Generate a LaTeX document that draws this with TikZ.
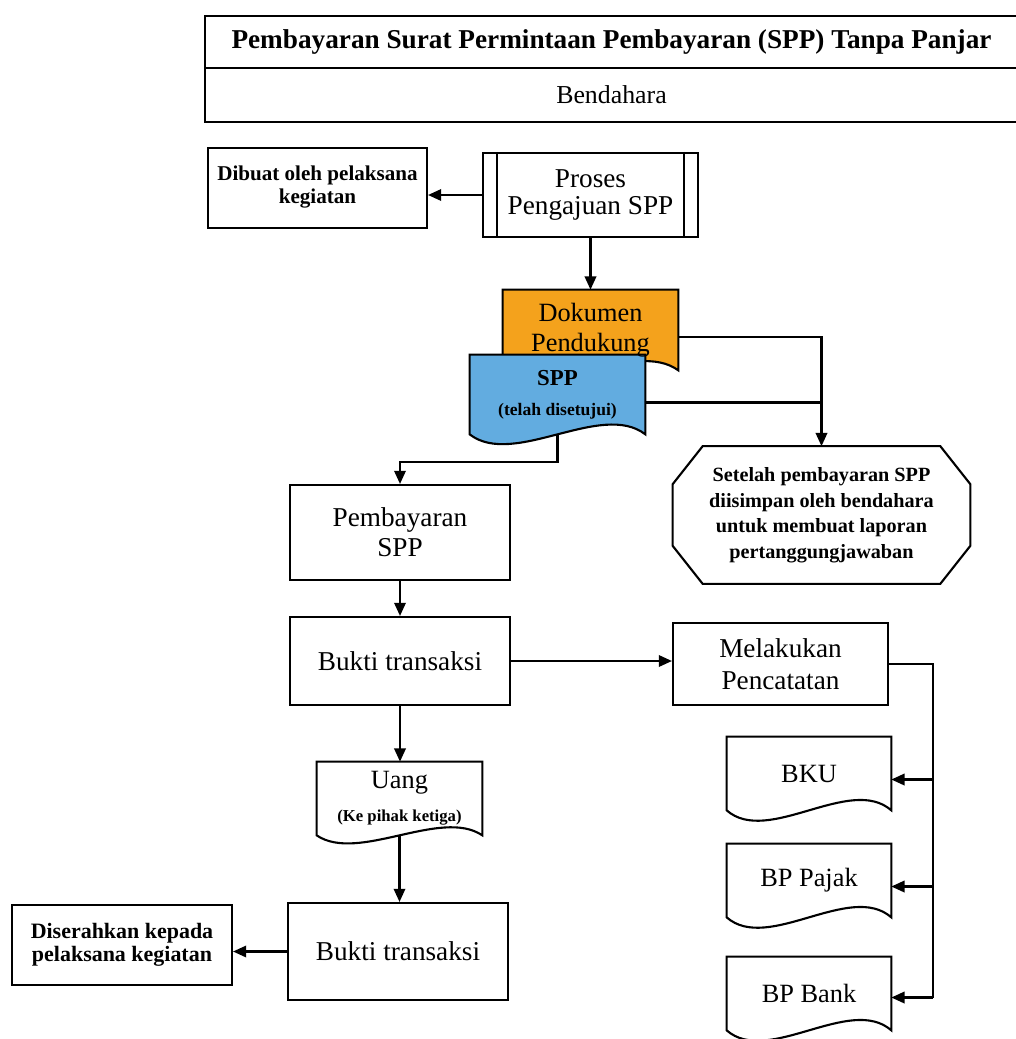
\documentclass[tikz,border=0pt]{standalone}
\usepackage{fontspec}
\setmainfont{Liberation Serif}
\usetikzlibrary{arrows.meta,calc}
\pgfdeclarelayer{bg}
\pgfsetlayers{bg,main}
\definecolor{docorange}{RGB}{244,162,28}
\definecolor{docblue}{RGB}{98,172,224}
\newcommand\fsz[2]{\fontsize{#1}{#2}\selectfont}
% document symbol: straight top and sides, wavy bottom edge
\newcommand\docoutline[3]{%
  \draw[boxline,fill=#2] (#1.north west) -- (#1.north east) -- (#1.south east)
    .. controls ($(#1.south east)!0.5!(#1.south)+(0,-#3)$) and ($(#1.south west)!0.5!(#1.south)+(0,#3)$) .. (#1.south west) -- cycle;}
\begin{document}
\begin{tikzpicture}[x=0.02cm,y=-0.02cm,
  boxline/.style={line width=1.2pt,line join=miter},
  box/.style={draw,boxline,align=center,inner sep=0pt},
  plain/.style={align=center,inner sep=0pt},
  head/.style={draw,line width=1.5pt,align=center,inner sep=0pt,minimum width=16.26cm},
  link/.style={line width=1.2pt},
  arr/.style={link,-{Triangle[length=7.5pt,width=6.5pt]}},
  big/.style={font=\fsz{15.5}{17}},
  bold/.style={font=\fsz{12}{13}\bfseries}]
\useasboundingbox (0,0) rectangle (1016,1039);
\begin{pgfonlayer}{bg}
  \fill[white] (0,0) rectangle (1016,1039);
\end{pgfonlayer}

% header
\node[head,minimum height=1.04cm,font=\fsz{15.5}{17}\bfseries] (titlebar) at (611.5,42)
  {Pembayaran Surat Permintaan Pembayaran (SPP) Tanpa Panjar};
\node[head,minimum height=1.08cm,font=\fsz{14.7}{16}] (rolebar) at (611.5,95) {Bendahara};

% upper part
\node[box,bold,minimum width=4.38cm,minimum height=1.6cm,text depth=4pt] (dibuat) at (317.5,188)
  {Dibuat oleh pelaksana\\kegiatan};
\node[box,font=\fsz{15.5}{15},minimum width=4.3cm,minimum height=1.68cm] (proses) at (590.5,195)
  {Proses\\Pengajuan SPP};
\draw[link] ($(proses.north west)+(15,0)$) -- ($(proses.south west)+(15,0)$);
\draw[link] ($(proses.north east)+(-15,0)$) -- ($(proses.south east)+(-15,0)$);

\node[plain,font=\fsz{15}{17},minimum width=3.5cm,minimum height=1.6cm] (dok) at (590.5,330)
  {Dokumen\\Pendukung};
\node[plain,font=\fsz{13}{17}\bfseries,minimum width=3.5cm,minimum height=1.58cm] (spp) at (557.5,394.5)
  {SPP\\{\fsz{10}{12}\bfseries(telah disetujui)}};

\node[plain,font=\fsz{11.5}{14.5}\bfseries,minimum width=5.94cm,minimum height=2.74cm] (oct) at (821.5,515)
  {Setelah pembayaran SPP\\diisimpan oleh bendahara\\untuk membuat laporan\\pertanggungjawaban};
\draw[boxline] ($(oct.north west)+(30,0)$) -- ($(oct.north east)+(-30,0)$)
  -- ($(oct.north east)+(0,38)$) -- ($(oct.south east)+(0,-38)$)
  -- ($(oct.south east)+(-30,0)$) -- ($(oct.south west)+(30,0)$)
  -- ($(oct.south west)+(0,-38)$) -- ($(oct.north west)+(0,38)$) -- cycle;

% middle part
\node[box,big,minimum width=4.4cm,minimum height=1.9cm] (pemb) at (400,532.5) {Pembayaran\\SPP};
\node[box,big,minimum width=4.4cm,minimum height=1.76cm] (bukti1) at (400,661) {Bukti transaksi};
\node[box,font=\fsz{15.5}{18.5},minimum width=4.3cm,minimum height=1.64cm] (catat) at (780.5,664)
  {Melakukan\\Pencatatan};

\node[plain,font=\fsz{15}{17},minimum width=3.28cm,minimum height=1.46cm] (bku) at (809,773.5) {BKU};
\node[plain,font=\fsz{15}{17},minimum width=3.28cm,minimum height=1.46cm] (bppajak) at (809,880.5) {BP Pajak};
\node[plain,font=\fsz{15}{17},minimum width=3.28cm,minimum height=1.46cm] (bpbank) at (809,993.5) {BP Bank};

% lower part
\node[plain,font=\fsz{15}{19},minimum width=3.3cm,minimum height=1.46cm] (uang) at (399.5,798.5)
  {Uang\\{\fsz{9.5}{12}\bfseries(Ke pihak ketiga)}};
\node[box,big,minimum width=4.4cm,minimum height=1.94cm] (bukti2) at (398,951.5) {Bukti transaksi};
\node[box,font=\fsz{12.5}{13}\bfseries,minimum width=4.4cm,minimum height=1.6cm] (serah) at (122,945)
  {Diserahkan kepada\\pelaksana kegiatan};

% document symbols behind their labels
\begin{pgfonlayer}{bg}
  \docoutline{dok}{docorange}{32}
  \docoutline{spp}{docblue}{34}
  \docoutline{bku}{white}{36}
  \docoutline{bppajak}{white}{36}
  \docoutline{bpbank}{white}{36}
  \docoutline{uang}{white}{28}
\end{pgfonlayer}

% connectors
\draw[arr] (proses.west) -- (proses.west -| dibuat.east);
\draw[arr] (proses.south) -- (dok.north);

\coordinate (dokout) at ($(dok.east)+(0,7)$);
\coordinate (sppout) at ($(spp.east)+(0,8)$);
\draw[arr] (dokout) -| (oct.north);
\draw[link] (sppout) -- (sppout -| oct.north);

\draw[arr] (spp.south) -- ++(0,28) -| (pemb.north);
\draw[arr] (pemb.south) -- (bukti1.north);
\draw[arr] (bukti1.east) -- (bukti1.east -| catat.west);

\coordinate (rail) at ($(catat.east)+(44,0)$);
\coordinate (bkuin) at ($(bku.east)+(0,6)$);
\coordinate (pajakin) at ($(bppajak.east)+(0,6)$);
\coordinate (bankin) at ($(bpbank.east)+(0,4)$);
\draw[link] (catat.east) -- (rail) -- (rail |- bankin);
\draw[arr] (rail |- bkuin) -- (bkuin);
\draw[arr] (rail |- pajakin) -- (pajakin);
\draw[arr] (rail |- bankin) -- (bankin);

\draw[arr] (bukti1.south) -- (bukti1.south |- uang.north);
\draw[arr] (uang.south) -- (uang.south |- bukti2.north);
\draw[arr] (bukti2.west) -- (bukti2.west -| serah.east);
\end{tikzpicture}
\end{document}
